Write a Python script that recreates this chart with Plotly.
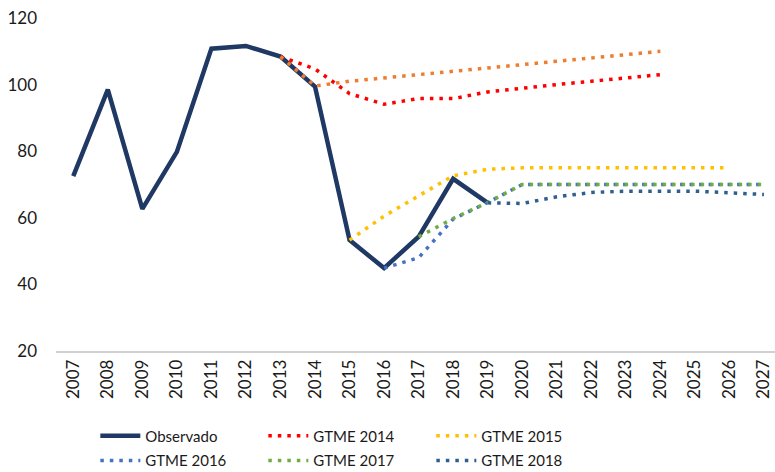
import plotly.graph_objects as go

years = list(range(2007, 2028))

observado = [72.5, 98.5, 62.7, 79.8, 110.8, 111.6, 108.4, 99.4, 53.3, 44.9, 54.3, 71.7, 64.5,
             None, None, None, None, None, None, None, None]
gtme_2013 = [None, None, None, None, None, None, 108.4, 99.6, 101.0, 102.0, 103.0, 104.0, 105.0,
             106.0, 107.0, 108.0, 109.0, 110.0, None, None, None]
gtme_2014 = [None, None, None, None, None, None, 108.4, 104.7, 97.3, 94.1, 95.8, 95.8, 97.8,
             99.0, 100.0, 101.0, 102.0, 103.0, None, None, None]
gtme_2015 = [None, None, None, None, None, None, None, None, 53.3, 60.5, 66.6, 72.6, 74.6,
             75.0, 75.0, 75.0, 75.0, 75.0, 75.0, 75.0, None]
gtme_2016 = [None, None, None, None, None, None, None, None, None, 44.9, 48.0, 59.6, 64.6,
             70.0, 70.0, 70.0, 70.0, 70.0, 70.0, 70.0, 70.0]
gtme_2017 = [None, None, None, None, None, None, None, None, None, None, 54.3, 59.8, 64.6,
             70.0, 70.0, 70.0, 70.0, 70.0, 70.0, 70.0, 70.0]
gtme_2018 = [None, None, None, None, None, None, None, None, None, None, None, None, 64.5,
             64.3, 66.3, 67.6, 68.0, 68.0, 68.0, 67.5, 67.0]

FONT = "Lato"
DOT = "3.5px,6px"

fig = go.Figure()
fig.add_trace(go.Scatter(x=years, y=observado, name="Observado", mode="lines",
                         legend="legend", line=dict(color="#1F3864", width=4.5)))

dotted = [
    ("GTME 2014", gtme_2014, "#FF0000", "legend"),
    ("GTME 2013", gtme_2013, "#ED7D31", None),
    ("GTME 2015", gtme_2015, "#FFC000", "legend"),
    ("GTME 2016", gtme_2016, "#4472C4", "legend2"),
    ("GTME 2017", gtme_2017, "#70AD47", "legend2"),
    ("GTME 2018", gtme_2018, "#2F5F8F", "legend2"),
]
for name, vals, col, leg in dotted:
    fig.add_trace(go.Scatter(x=years, y=vals, name=name, mode="lines",
                             showlegend=leg is not None, legend=leg or "legend",
                             line=dict(color=col, width=3.5, dash=DOT)))

leg_common = dict(orientation="h", xref="container", x=0.123, xanchor="left",
                  yref="container", yanchor="top", entrywidth=113,
                  font=dict(size=15), traceorder="normal", itemwidth=40)

fig.update_layout(
    width=775, height=472,
    margin=dict(l=56, r=0, t=18, b=121),
    plot_bgcolor="white", paper_bgcolor="white",
    font=dict(family=FONT, size=17, color="#1a1a1a"),
    legend=dict(leg_common, y=0.111),
    legend2=dict(leg_common, y=0.059),
)
fig.update_xaxes(range=[2006.5, 2027.32], tickmode="array", tickvals=years,
                 ticktext=[str(y) for y in years], tickangle=-90,
                 ticklabeloverflow="allow",
                 showgrid=False, showline=True, linecolor="#d0d0d0", linewidth=1.5,
                 zeroline=False, ticks="", automargin=False)
fig.update_yaxes(range=[20, 120], tickvals=[20, 40, 60, 80, 100, 120],
                 showgrid=False, zeroline=False, showline=False,
                 ticklabelstandoff=18, automargin=False)

fig.write_html("out.html", config={"displayModeBar": False},
               post_script="document.body.style.margin='0';")
